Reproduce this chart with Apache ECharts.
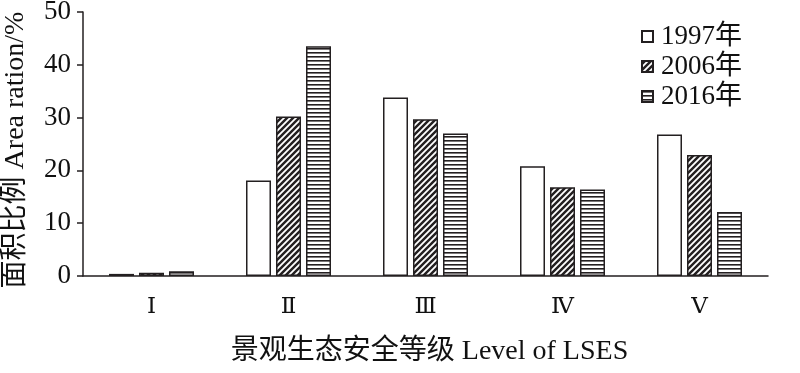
<!DOCTYPE html>
<html>
<head>
<meta charset="utf-8">
<script src="https://cdn.jsdelivr.net/npm/echarts@6/dist/echarts.min.js"></script>
<style>html,body{margin:0;padding:0;background:#fff}#c{width:800px;height:373px}</style>
</head>
<body>
<div id="c"></div>
<script>
var categories = ['Ⅰ', 'Ⅱ', 'Ⅲ', 'Ⅳ', 'Ⅴ'];
var seriesNames = ['1997年', '2006年', '2016年'];
var values1997 = [0.4, 18.1, 33.8, 20.8, 26.8];
var values2006 = [0.6, 30.2, 29.7, 16.8, 22.9];
var values2016 = [0.9, 43.5, 27.0, 16.4, 12.1];
var yTicks = { min: 0, max: 50, interval: 10 };

var ink = '#231f20';
var serif = '"Times New Roman","Liberation Serif","DejaVu Serif","Noto Sans CJK SC",serif';

function diagPattern() {
  var s = 6, c = document.createElement('canvas');
  c.width = s; c.height = s;
  var g = c.getContext('2d');
  g.fillStyle = ink; g.fillRect(0, 0, s, s);
  g.strokeStyle = '#fff'; g.lineWidth = 1.8;
  g.beginPath();
  g.moveTo(-1, s + 1); g.lineTo(s + 1, -1);
  g.moveTo(-1, 1); g.lineTo(1, -1);
  g.moveTo(s - 1, s + 1); g.lineTo(s + 1, s - 1);
  g.stroke();
  return c;
}
function hPattern() {
  var c = document.createElement('canvas');
  c.width = 4; c.height = 4;
  var g = c.getContext('2d');
  g.fillStyle = '#fff'; g.fillRect(0, 0, 4, 4);
  g.fillStyle = ink; g.fillRect(0, 0, 4, 1.6);
  return c;
}

var fills = ['#ffffff', { image: diagPattern(), repeat: 'repeat' }, { image: hPattern(), repeat: 'repeat' }];
var dataSets = [values1997, values2006, values2016];

var chart = echarts.init(document.getElementById('c'), null, { renderer: 'canvas' });
chart.setOption({
  animation: false,
  textStyle: { fontFamily: serif, color: '#000' },
  grid: { left: 83, right: 32, top: 12, bottom: 97, containLabel: false, outerBoundsMode: 'none' },
  legend: {
    orient: 'vertical',
    left: 636, top: 18,
    icon: 'rect',
    itemWidth: 11, itemHeight: 11, itemGap: 3,
    textStyle: { fontFamily: serif, fontSize: 27, color: '#111', lineHeight: 27, padding: [0, 0, 0, 3] },
    data: seriesNames
  },
  xAxis: {
    type: 'category',
    data: categories,
    name: '景观生态安全等级 Level of LSES',
    nameLocation: 'middle',
    nameGap: 62,
    nameTextStyle: { fontFamily: serif, fontSize: 28, color: '#111', padding: [0, 0, 0, 8] },
    axisLine: { lineStyle: { color: ink, width: 1.5 } },
    axisTick: { show: false },
    axisLabel: { margin: 19, fontSize: 23, color: '#111', fontFamily: serif }
  },
  yAxis: {
    type: 'value',
    min: yTicks.min, max: yTicks.max, interval: yTicks.interval,
    name: '面积比例 Area ration/%',
    nameLocation: 'middle',
    nameRotate: 90,
    nameGap: 53,
    nameTextStyle: { fontFamily: serif, fontSize: 28, color: '#111', padding: [0, 12, 0, 0] },
    axisLine: { show: true, lineStyle: { color: ink, width: 1.5 } },
    axisTick: { show: true, inside: false, length: 6, lineStyle: { color: ink, width: 1.5 } },
    splitLine: { show: false },
    axisLabel: { margin: 12, fontSize: 27, color: '#111', fontFamily: serif }
  },
  series: seriesNames.map(function (n, i) {
    return {
      name: n,
      type: 'bar',
      data: dataSets[i],
      barWidth: 25,
      barGap: '20%',
      itemStyle: { color: fills[i], borderColor: ink, borderWidth: 1.5 }
    };
  })
});
</script>
</body>
</html>
